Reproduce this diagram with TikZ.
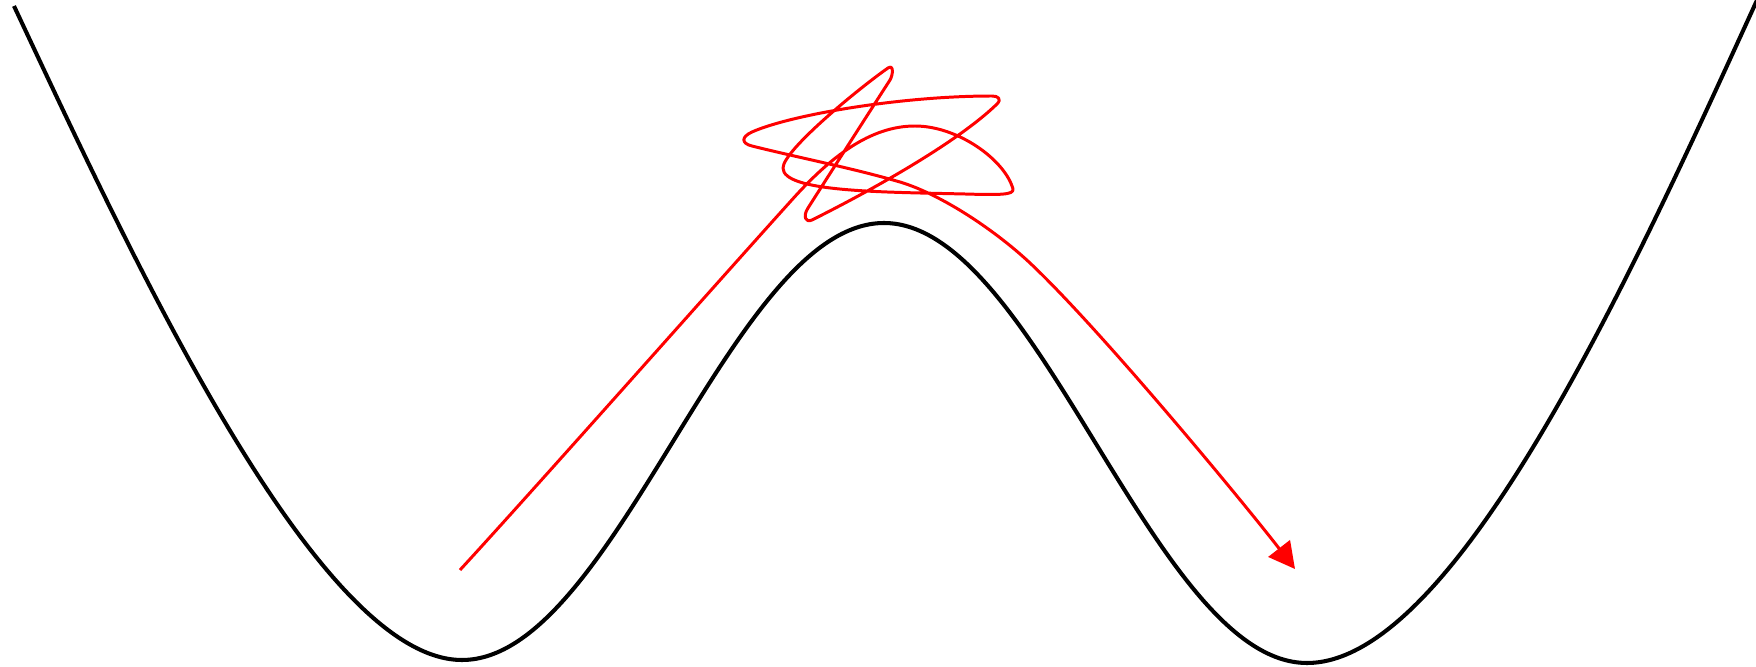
\documentclass[tikz,border=0pt]{standalone}
\usetikzlibrary{arrows.meta}
\tikzset{
  landscape/.style={draw=black, line width=1.15pt, line join=round},
  trajectory/.style={draw=red, line width=0.85pt, line join=round,
    -{Triangle[length=0.26cm,width=0.27cm]}}
}
\begin{document}
\begin{tikzpicture}[x=0.01cm,y=-0.01cm]
\useasboundingbox (0,0) rectangle (1756,667);
% double-well landscape
\coordinate (lend) at (14,6);
\coordinate (lmin) at (462,660);
\coordinate (top)  at (884,223);
\coordinate (rmin) at (1307,663);
\coordinate (rend) at (1758,-2);
\path[landscape] (lend) .. controls (134,262) and (318,660) .. (lmin)
  .. controls (615,660) and (731,223) .. (top)
  .. controls (1037,223) and (1154,663) .. (rmin)
  .. controls (1457,663) and (1636,265) .. (rend);
% trajectory
\coordinate (start) at (460,570);
\coordinate (tip) at (1295,569);
\path[trajectory] (start)
  .. controls (534.5,489) and (716,284) .. (790,202)
  .. controls (830,157) and (870,126) .. (915,126)
  .. controls (958,126) and (1005,160) .. (1013,189)
  .. controls (1014,195) and (1000,195) .. (965,194)
  .. controls (880,192) and (783,192) .. (783,168)
  .. controls (783,150) and (862,86) .. (888,68)
  .. controls (894,64) and (893,75) .. (890,80)
  .. controls (870,111) and (822,186) .. (808,208)
  .. controls (802.6,216.4) and (805.7,223.1) .. (812,220)
  .. controls (880,186) and (960,140) .. (997,104)
  .. controls (1002,99) and (998,96) .. (992,96)
  .. controls (900,96) and (790,115) .. (752,132)
  .. controls (741,137) and (741.3,143.4) .. (752,146)
  .. controls (800,158) and (852,168) .. (900,182)
  .. controls (943,195) and (997,232) .. (1030,263)
  .. controls (1099,328) and (1240,498) .. (tip);
\end{tikzpicture}
\end{document}
